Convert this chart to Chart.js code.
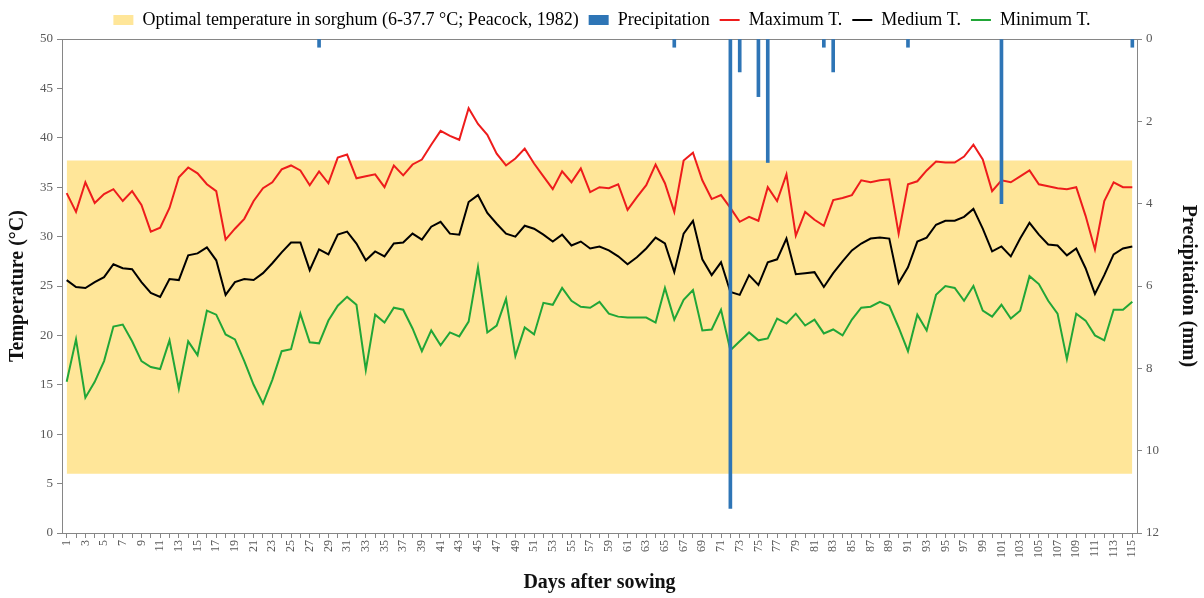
<!DOCTYPE html>
<html>
<head>
<meta charset="utf-8">
<title>Temperature and precipitation by days after sowing</title>
<script src="https://cdn.jsdelivr.net/npm/chart.js@4.4.1/dist/chart.umd.min.js"></script>
<style>
  html, body { margin: 0; padding: 0; background: #fff; }
  #wrap { width: 1204px; height: 598px; position: relative; }
</style>
</head>
<body>
<div id="wrap"><canvas id="weatherChart"></canvas></div>
<script>
/* ------------------------------------------------------------------ */
/* Data                                                                */
/* ------------------------------------------------------------------ */
var DAYS = [
  1, 2, 3, 4, 5, 6, 7, 8, 9, 10, 11, 12, 13, 14, 15, 16, 17, 18, 19, 20,
  21, 22, 23, 24, 25, 26, 27, 28, 29, 30, 31, 32, 33, 34, 35, 36, 37, 38, 39, 40,
  41, 42, 43, 44, 45, 46, 47, 48, 49, 50, 51, 52, 53, 54, 55, 56, 57, 58, 59, 60,
  61, 62, 63, 64, 65, 66, 67, 68, 69, 70, 71, 72, 73, 74, 75, 76, 77, 78, 79, 80,
  81, 82, 83, 84, 85, 86, 87, 88, 89, 90, 91, 92, 93, 94, 95, 96, 97, 98, 99, 100,
  101, 102, 103, 104, 105, 106, 107, 108, 109, 110, 111, 112, 113, 114, 115
];

var MAX_T = [
  34.4, 32.5, 35.5, 33.4, 34.3, 34.8, 33.6, 34.6, 33.2, 30.5,
  30.9, 32.9, 36.0, 37.0, 36.4, 35.3, 34.6, 29.7, 30.8, 31.8,
  33.6, 34.9, 35.5, 36.8, 37.2, 36.7, 35.2, 36.6, 35.4, 38.0,
  38.3, 35.9, 36.1, 36.3, 35.0, 37.2, 36.2, 37.3, 37.8, 39.3,
  40.7, 40.2, 39.8, 43.0, 41.4, 40.3, 38.4, 37.2, 37.9, 38.9,
  37.4, 36.1, 34.8, 36.6, 35.5, 36.9, 34.5, 35.0, 34.9, 35.3,
  32.7, 34.0, 35.2, 37.3, 35.4, 32.5, 37.7, 38.5, 35.7, 33.8,
  34.2, 32.9, 31.5, 32.0, 31.6, 35.0, 33.6, 36.3, 30.1, 32.5,
  31.7, 31.1, 33.7, 33.9, 34.2, 35.7, 35.5, 35.7, 35.8, 30.3,
  35.3, 35.6, 36.7, 37.6, 37.5, 37.5, 38.1, 39.3, 37.8, 34.6,
  35.7, 35.5, 36.1, 36.7, 35.3, 35.1, 34.9, 34.8, 35.0, 32.1,
  28.7, 33.6, 35.5, 35.0, 35.0
];

var MED_T = [
  25.6, 24.9, 24.8, 25.4, 25.9, 27.2, 26.8, 26.7, 25.4, 24.3,
  23.9, 25.7, 25.6, 28.1, 28.3, 28.9, 27.6, 24.1, 25.4, 25.7,
  25.6, 26.3, 27.3, 28.4, 29.4, 29.4, 26.6, 28.7, 28.2, 30.2,
  30.5, 29.3, 27.6, 28.5, 28.0, 29.3, 29.4, 30.3, 29.7, 31.0,
  31.5, 30.3, 30.2, 33.5, 34.2, 32.4, 31.3, 30.3, 30.0, 31.1,
  30.8, 30.2, 29.5, 30.2, 29.1, 29.5, 28.8, 29.0, 28.6, 28.0,
  27.2, 27.9, 28.8, 29.9, 29.3, 26.4, 30.3, 31.6, 27.7, 26.1,
  27.4, 24.4, 24.1, 26.1, 25.1, 27.4, 27.7, 29.8, 26.2, 26.3,
  26.4, 24.9, 26.3, 27.5, 28.6, 29.3, 29.8, 29.9, 29.8, 25.3,
  26.9, 29.5, 29.9, 31.2, 31.6, 31.6, 32.0, 32.8, 30.8, 28.5,
  29.0, 28.0, 29.8, 31.4, 30.2, 29.2, 29.1, 28.1, 28.8, 26.8,
  24.2, 26.1, 28.2, 28.8, 29.0
];

var MIN_T = [
  15.3, 19.6, 13.7, 15.3, 17.4, 20.9, 21.1, 19.4, 17.4, 16.8,
  16.6, 19.5, 14.6, 19.4, 18.0, 22.5, 22.1, 20.1, 19.6, 17.4,
  15.0, 13.1, 15.5, 18.4, 18.6, 22.2, 19.3, 19.2, 21.5, 23.0,
  23.9, 23.1, 16.5, 22.1, 21.3, 22.8, 22.6, 20.7, 18.4, 20.5,
  19.0, 20.3, 19.9, 21.4, 26.9, 20.3, 21.0, 23.7, 17.9, 20.8,
  20.1, 23.3, 23.1, 24.8, 23.5, 22.9, 22.8, 23.4, 22.2, 21.9,
  21.8, 21.8, 21.8, 21.3, 24.8, 21.6, 23.6, 24.6, 20.5, 20.6,
  22.6, 18.5, 19.4, 20.3, 19.5, 19.7, 21.7, 21.2, 22.2, 21.0,
  21.6, 20.2, 20.6, 20.0, 21.6, 22.8, 22.9, 23.4, 23.0, 20.8,
  18.4, 22.1, 20.5, 24.1, 25.0, 24.8, 23.5, 25.0, 22.5, 21.9,
  23.1, 21.7, 22.5, 26.0, 25.2, 23.5, 22.2, 17.6, 22.2, 21.5,
  20.0, 19.5, 22.6, 22.6, 23.4
];

/* rainy days only; mm */
var PRECIP_DAYS = [28, 66, 72, 73, 75, 76, 82, 83, 91, 101, 115];
var PRECIP_MM = [0.2, 0.2, 11.4, 0.8, 1.4, 3.0, 0.2, 0.8, 0.2, 4.0, 0.2];

/* optimal range for sorghum (Peacock, 1982) */
var BAND_LOW = 6;
var BAND_HIGH = 37.7;

/* ------------------------------------------------------------------ */
/* Style                                                               */
/* ------------------------------------------------------------------ */
var COLORS = {
  band: "#FFE699",
  precip: "#2E75B6",
  max: "#EE1C1C",
  med: "#000000",
  min: "#21A637",
};
var AXIS_GREY = "#868686";
var TITLE_COLOR = "#111111";

Chart.defaults.font.family = "'Liberation Serif', 'Times New Roman', serif";
Chart.defaults.color = "#595959";

/* ------------------------------------------------------------------ */
/* Chart                                                               */
/* ------------------------------------------------------------------ */
var bandData = DAYS.map(function () { return BAND_HIGH; });
var precipData = PRECIP_DAYS.map(function (d, i) { return { x: d, y: PRECIP_MM[i] }; });

function lineSet(label, data, color, order) {
  return {
    type: "line",
    label: label,
    data: data,
    borderColor: color,
    backgroundColor: color,
    borderWidth: 2,
    pointRadius: 0,
    tension: 0,
    fill: false,
    order: order,
  };
}

new Chart(document.getElementById("weatherChart"), {
  data: {
    labels: DAYS,
    datasets: [
      {
        type: "line",
        label: "Optimal temperature in sorghum (6-37.7 °C; Peacock, 1982)",
        data: bandData,
        fill: { value: BAND_LOW },
        backgroundColor: COLORS.band,
        borderColor: "rgba(0,0,0,0)",
        borderWidth: 0,
        pointRadius: 0,
        order: 4,
      },
      {
        type: "bar",
        label: "Precipitation",
        data: precipData,
        yAxisID: "y2",
        backgroundColor: COLORS.precip,
        barThickness: 3,
        order: 0,
      },
      lineSet("Maximum T.", MAX_T, COLORS.max, 1),
      lineSet("Medium T.", MED_T, COLORS.med, 2),
      lineSet("Minimum T.", MIN_T, COLORS.min, 3),
    ],
  },
  options: {
    responsive: true,
    maintainAspectRatio: false,
    animation: false,
    layout: { padding: { top: 1, left: 0, right: 0, bottom: 0 } },
    plugins: {
      tooltip: { enabled: false },
      legend: {
        position: "top",
        labels: {
          usePointStyle: true,
          pointStyleWidth: 20,
          boxHeight: 10,
          padding: 10,
          color: "#262626",
          font: { size: 18 },
          generateLabels: function (chart) {
            return chart.data.datasets.map(function (ds, i) {
              var isLine = ds.type === "line" && ds.fill === false;
              return {
                text: ds.label,
                datasetIndex: i,
                fillStyle: isLine ? "rgba(0,0,0,0)" : ds.backgroundColor,
                strokeStyle: isLine ? ds.borderColor : "rgba(0,0,0,0)",
                lineWidth: isLine ? 2 : 0,
                pointStyle: isLine ? "line" : "rect",
                hidden: false,
              };
            });
          },
        },
      },
    },
    scales: {
      x: {
        type: "category",
        position: "bottom",
        grid: { display: true, drawOnChartArea: false, offset: false, color: AXIS_GREY, tickLength: 5 },
        border: { color: AXIS_GREY },
        ticks: {
          autoSkip: false,
          minRotation: 90,
          maxRotation: 90,
          padding: 2,
          font: { size: 12 },
          callback: function (v, i) { return i % 2 === 0 ? String(DAYS[i]) : ""; },
        },
        title: {
          display: true,
          text: "Days after sowing",
          color: TITLE_COLOR,
          font: { size: 20, weight: "bold" },
          padding: { top: 0, bottom: 3 },
        },
        afterFit: function (s) { s.height = 65; },
      },
      xTop: {
        type: "category",
        position: "top",
        grid: { display: false },
        ticks: { display: false },
        border: { color: AXIS_GREY },
        afterFit: function (s) { s.height = 0; },
      },
      y: {
        position: "left",
        min: 0,
        max: 50,
        ticks: { stepSize: 5, padding: 4, font: { size: 13 } },
        grid: { drawOnChartArea: false, color: AXIS_GREY, tickLength: 5 },
        border: { color: AXIS_GREY },
        title: {
          display: true,
          text: "Temperature (°C)",
          color: TITLE_COLOR,
          font: { size: 20, weight: "bold" },
          padding: { top: 6, bottom: 0 },
        },
        afterFit: function (s) { s.width = 62; },
      },
      y2: {
        position: "right",
        min: 0,
        max: 12,
        reverse: true,
        ticks: { stepSize: 2, padding: 4, font: { size: 13 } },
        grid: { drawOnChartArea: false, color: AXIS_GREY, tickLength: 5 },
        border: { color: AXIS_GREY },
        title: {
          display: true,
          text: "Precipitation (mm)",
          color: TITLE_COLOR,
          font: { size: 20, weight: "bold" },
          padding: { top: 4, bottom: 0 },
        },
        afterFit: function (s) { s.width = 67; },
      },
    },
  },
});
</script>
</body>
</html>
